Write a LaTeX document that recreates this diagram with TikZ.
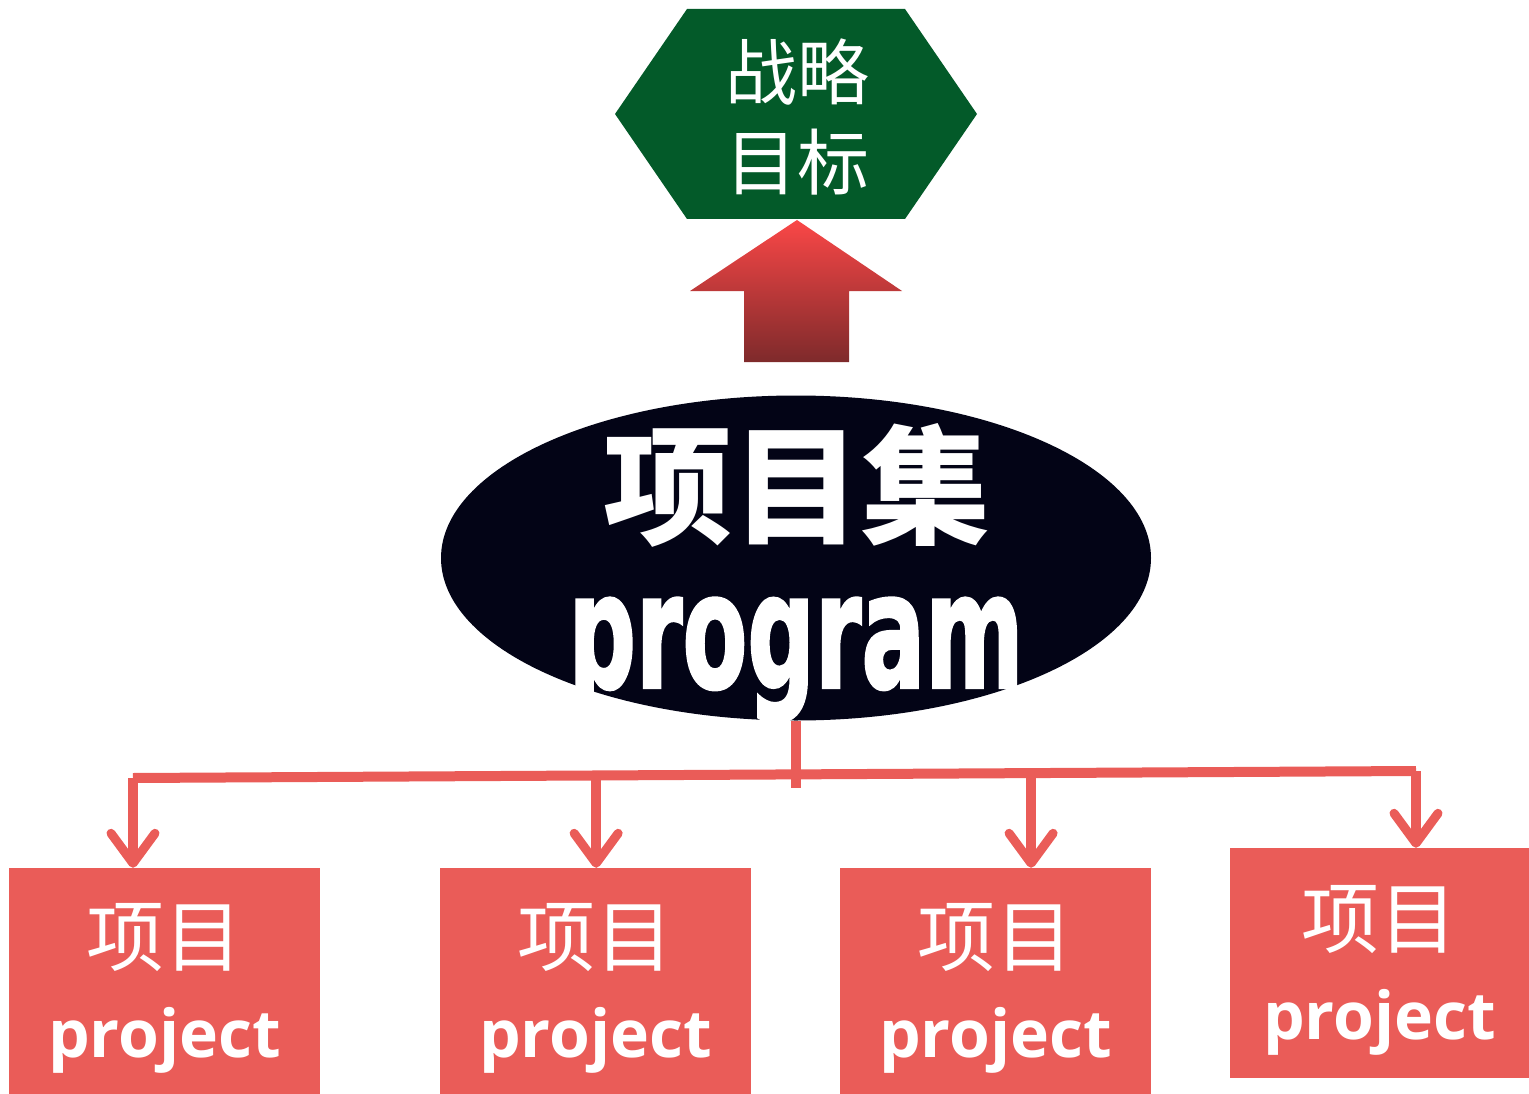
\documentclass[tikz,border=0pt]{standalone}
\usepackage{fontspec}
\usepackage{tikz}
\usetikzlibrary{shapes.geometric,arrows.meta,calc}
\newfontfamily\cjk{Noto Sans CJK SC}
\newfontfamily\latinbold{Open Sans}
\newfontfamily\heavyfont{DejaVu Sans}[BoldFeatures={FakeBold=2}]
\definecolor{goalgreen}{HTML}{035A29}
\definecolor{progblack}{HTML}{030416}
\definecolor{projred}{HTML}{EA5C58}
\definecolor{arrowtop}{HTML}{FA4747}
\definecolor{arrowbottom}{HTML}{7E2A2B}
\newcommand{\pmproject}[4] {\node at (#1) (#2) [rectangle, fill=projred, minimum width=#3, minimum height=#4, inner sep=0pt, text=white, align=center, font=\latinbold\bfseries\fontsize{66}{86}\selectfont] {{\cjk\mdseries\fontsize{78}{86}\selectfont\raisebox{6pt}[82pt][0pt]{项目}}\\project};}
\newcommand{\pmtap}[2] {\coordinate (#1) at ($(busL)!#2!(busR)$);}
\newcommand{\pmdrop}[2] {\draw [-{Straight Barb[length=30pt, width=44pt, line width=9pt, round]}, projred, line width=10pt] (#1) -- (#1 |- #2.north);}

\begin{document}
\begin{tikzpicture}[x=1pt, y=-1pt]
\useasboundingbox (0,0) rectangle (1529,1094);

% goal on top
\fill [goalgreen] (615,114) -- (687,9) -- (905,9) -- (977,114) -- (905,219) -- (687,219) -- cycle;
\node at (797,117) (goal) [text=white, align=center, font=\cjk\fontsize{72}{90}\selectfont] {战略\\目标};
\shade [top color=arrowtop, bottom color=arrowbottom] (797,220) -- (902,291) -- (849,291) -- (849,362) -- (744,362) -- (744,291) -- (690,291) -- cycle;

% program
\node at (796,558) (prog) [ellipse, fill=progblack, minimum width=710pt, minimum height=325pt, inner sep=0pt] {};
\node at (797,485) (progcn) [text=white, font=\cjk\bfseries\fontsize{129}{129}\selectfont] {项目集};
\node at (796,660) (progen) [text=white, font=\heavyfont\bfseries\fontsize{160}{160}\selectfont] {\scalebox{0.59}[1]{program}};

% projects
\pmproject {164.5,981} {p1} {311pt} {226pt};
\pmproject {595.5,981} {p2} {311pt} {226pt};
\pmproject {995.5,981} {p3} {311pt} {226pt};
\pmproject {1379.5,963} {p4} {299pt} {230pt};

\coordinate (stem) at (796,788);
\coordinate (busL) at (133,778);
\coordinate (busR) at (1416,771);
\pmtap {t2} {0.361};
\pmtap {t3} {0.700};

\draw [projred, line width=10pt] (prog.south) -- (stem);
\draw [projred, line width=10pt] (busL) -- (busR);
\pmdrop {busL} {p1};
\pmdrop {t2} {p2};
\pmdrop {t3} {p3};
\pmdrop {busR} {p4};
\end{tikzpicture}
\end{document}
